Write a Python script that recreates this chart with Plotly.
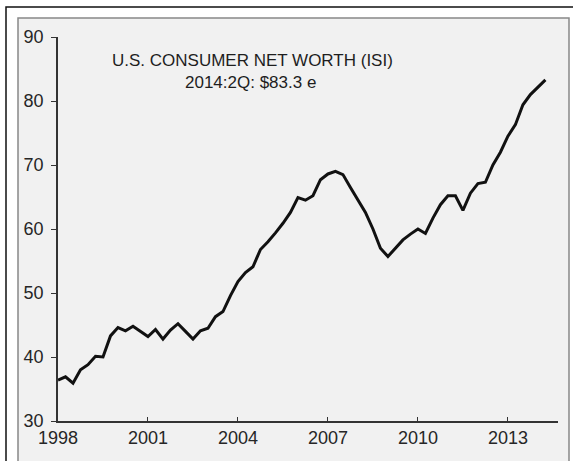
import plotly.graph_objects as go

# Quarterly data, 1998:1Q .. 2014:2Q (trillions $)
years = [1998, 1999, 2000, 2001, 2002, 2003, 2004, 2005, 2006, 2007,
         2008, 2009, 2010, 2011, 2012, 2013, 2014]
net_worth = [
    36.4, 36.9, 35.9, 38.0,   # 1998
    38.8, 40.1, 40.0, 43.3,   # 1999
    44.6, 44.1, 44.8, 44.0,   # 2000
    43.2, 44.3, 42.8, 44.2,   # 2001
    45.2, 44.0, 42.8, 44.1,   # 2002
    44.5, 46.3, 47.1, 49.6,   # 2003
    51.8, 53.2, 54.1, 56.8,   # 2004
    58.0, 59.4, 60.9, 62.6,   # 2005
    64.9, 64.5, 65.2, 67.7,   # 2006
    68.6, 69.0, 68.5, 66.5,   # 2007
    64.6, 62.6, 60.0, 57.0,   # 2008
    55.7, 57.0, 58.3, 59.2,   # 2009
    60.0, 59.3, 61.7, 63.8,   # 2010
    65.2, 65.2, 62.9, 65.6,   # 2011
    67.1, 67.3, 70.0, 72.0,   # 2012
    74.5, 76.3, 79.4, 81.0,   # 2013
    82.2, 83.3,               # 2014
]
x_ticks = [1998, 2001, 2004, 2007, 2010, 2013]
y_ticks = [30, 40, 50, 60, 70, 80, 90]
title_lines = ["U.S. CONSUMER NET WORTH (ISI)", "2014:2Q: $83.3 e"]

quarters = [y + q / 4 for y in years for q in range(4)][:len(net_worth)]

W, H = 573, 461
L, R, T, B = 58, 558, 37, 421  # plot area in pixels


def px(x):
    return (x - L) / (R - L)


def py(y):
    return (B - y) / (B - T)


fig = go.Figure()
fig.add_trace(go.Scatter(x=quarters, y=net_worth, mode="lines",
                         line=dict(color="#111111", width=3),
                         hoverinfo="skip", showlegend=False))

font = "Liberation Sans, Arial, Helvetica, sans-serif"

fig.update_layout(
    width=W, height=H,
    margin=dict(l=L, r=W - R, t=T, b=H - B, pad=0),
    paper_bgcolor="white",
    plot_bgcolor="rgba(0,0,0,0)",
    font=dict(family=font, size=18, color="#262626"),
    xaxis=dict(range=[1998, 2014.67], tickvals=x_ticks,
               ticks="inside", ticklen=4, tickwidth=1.2, tickcolor="#333",
               showline=True, linecolor="#333", linewidth=1.5,
               showgrid=False, zeroline=False, fixedrange=True),
    yaxis=dict(range=[30, 90], tickvals=y_ticks,
               ticks="outside", ticklen=5, tickwidth=1.2, tickcolor="#333",
               ticklabelstandoff=4,
               showline=True, linecolor="#333", linewidth=1.5,
               showgrid=False, zeroline=False, fixedrange=True),
    shapes=[
        dict(type="rect", xref="paper", yref="paper", layer="below",
             x0=px(6), x1=px(590), y0=py(480), y1=py(7),
             line=dict(color="#111", width=1.5), fillcolor="white"),
        dict(type="rect", xref="paper", yref="paper", layer="below",
             x0=px(18), x1=px(569), y0=py(480), y1=py(18),
             line=dict(color="#888", width=1.5), fillcolor="#f1f1f1"),
    ],
    annotations=[
        dict(text=title_lines[0], x=px(252), y=py(60), xref="paper", yref="paper",
             showarrow=False, xanchor="center", yanchor="middle",
             font=dict(size=17, color="#1e1e1e")),
        dict(text=title_lines[1], x=px(250), y=py(82), xref="paper", yref="paper",
             showarrow=False, xanchor="center", yanchor="middle",
             font=dict(size=17, color="#1e1e1e")),
    ],
)

fig.write_html("out.html", config={"displayModeBar": False},
               post_script="document.body.style.margin='0';document.body.style.overflow='hidden';")
